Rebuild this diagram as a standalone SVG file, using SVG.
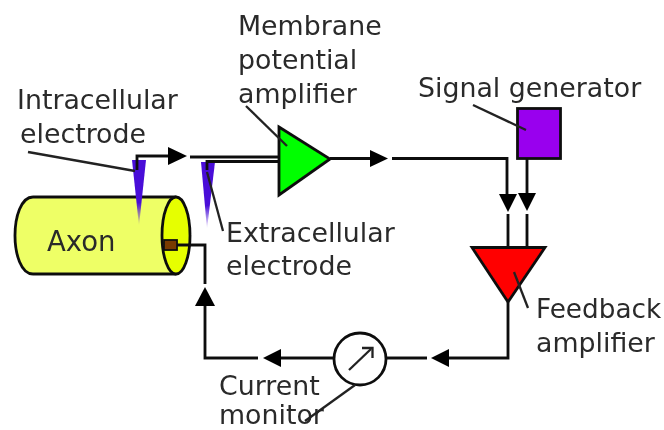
<svg xmlns="http://www.w3.org/2000/svg" width="664" height="430" viewBox="0 0 664 430">
<style>
text{font-family:"DejaVu Sans",sans-serif;font-size:26.800px;fill:#2a2a2a}
.s{stroke:#111;stroke-width:2.8;fill:none}
.o{stroke:#111;stroke-width:2.8}
.p{stroke:#222;stroke-width:2.3;fill:none}
.h{fill:#000;stroke:none}
</style>
<defs>
<linearGradient id="tip" x1="0" y1="0" x2="0" y2="1">
<stop offset="0" stop-color="#4a10d8"/><stop offset="0.65" stop-color="#4a10d8"/><stop offset="1" stop-color="#4a10d8" stop-opacity="0"/>
</linearGradient>
<filter id="soft" x="-2%" y="-2%" width="104%" height="104%"><feGaussianBlur stdDeviation="0.6"/></filter>
</defs>
<rect width="664" height="430" fill="#fff"/>
<g filter="url(#soft)">
<g id="axon">
<path d="M175 197H33C21 197 15 217 15 235.500S21 274 33 274H175Z" fill="#eeff66" class="o"/>
<ellipse cx="176" cy="235.500" rx="14" ry="38.500" fill="#e6ff00" class="o"/>
<text x="47" y="251" style="font-size:27.500px">Axon</text>
</g>
<g id="intracellular-electrode">
<path d="M132 160H146L139 226Z" fill="url(#tip)"/>
<text x="17" y="109">Intracellular</text>
<text x="20" y="143">electrode</text>
<path class="p" d="M28 152L135 171"/>
</g>
<g id="extracellular-electrode">
<path d="M201 162H215L207 229Z" fill="url(#tip)"/>
<text x="226" y="242">Extracellular</text>
<text x="226" y="275">electrode</text>
<path class="p" d="M207 172L223 231"/>
</g>
<g id="current-electrode">
<rect x="164" y="240" width="13" height="10" fill="#7a3a00" stroke="#111" stroke-width="1.800"/>
</g>
<g id="connectors">
<path class="s" d="M137 170V156H168"/>
<path class="s" d="M190 157H280"/>
<path class="s" d="M207 170V161.500H280"/>
<path class="s" d="M330 158.500H372"/>
<path class="s" d="M392 158.500H507V194"/>
<path class="s" d="M527 159V194"/>
<path class="s" d="M508 214V248"/>
<path class="s" d="M527 214V248"/>
<path class="s" d="M508 302V358H449"/>
<path class="s" d="M427 358H387"/>
<path class="s" d="M334 358H281"/>
<path class="s" d="M258 358H205V306"/>
<path class="s" d="M205 284V245H177"/>
<path class="h" d="M168 147L187 156L168 165Z"/>
<path class="h" d="M370 150L388 158.500L370 167Z"/>
<path class="h" d="M499 194H517L508 212Z"/>
<path class="h" d="M518 193H536L527 211Z"/>
<path class="h" d="M449 349V367L431 358Z"/>
<path class="h" d="M281 349V367L263 358Z"/>
<path class="h" d="M195 306H215L205 287Z"/>
</g>
<g id="membrane-amplifier">
<path d="M279 127L330 159L279 195Z" fill="#00ff00" class="o"/>
<text x="238" y="35">Membrane</text>
<text x="238" y="69">potential</text>
<text x="238" y="103">amplifier</text>
<path class="p" d="M246 106L287 146"/>
</g>
<g id="signal-generator">
<rect x="517.500" y="108.500" width="43" height="50" fill="#9900ee" class="o"/>
<text x="418" y="97">Signal generator</text>
<path class="p" d="M473 105L526 130"/>
</g>
<g id="feedback-amplifier">
<path d="M472 247.500H545L508 302Z" fill="#ff0000" class="o"/>
<text x="536" y="318" style="font-size:26.300px">Feedback</text>
<text x="536" y="352">amplifier</text>
<path class="p" d="M514 272L528 308"/>
</g>
<g id="current-monitor">
<circle cx="360" cy="359" r="26" fill="#fff" class="o"/>
<path class="p" d="M349 370L371 349"/>
<path class="p" d="M362 348H372.500V358"/>
<text x="219" y="395">Current</text>
<text x="219" y="423.500">monitor</text>
<path class="p" d="M305 421L355 385"/>
</g>
</g>
</svg>
